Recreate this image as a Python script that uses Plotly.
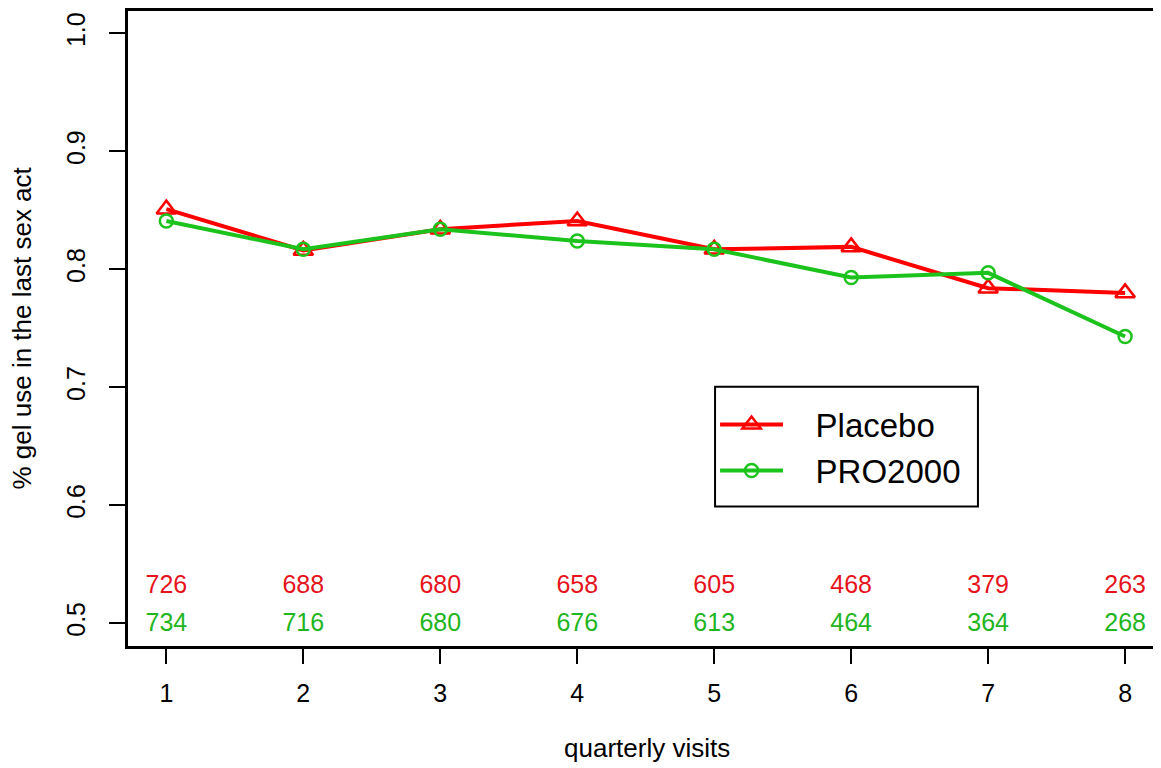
import plotly.graph_objects as go

visits = [1, 2, 3, 4, 5, 6, 7, 8]
placebo = [0.851, 0.816, 0.834, 0.841, 0.817, 0.819, 0.784, 0.780]
pro2000 = [0.841, 0.817, 0.834, 0.824, 0.817, 0.793, 0.797, 0.743]
n_placebo = [726, 688, 680, 658, 605, 468, 379, 263]
n_pro2000 = [734, 716, 680, 676, 613, 464, 364, 268]
y_ticks = [0.5, 0.6, 0.7, 0.8, 0.9, 1.0]
y_tick_text = ["0.5", "0.6", "0.7", "0.8", "0.9", "1.0"]

RED = "#FF0000"
GREEN = "#1DC31D"
FONT = "Liberation Sans, Arial, sans-serif"
NB = "\u00a0\u00a0\u00a0"

fig = go.Figure()
fig.add_trace(go.Scatter(
    x=visits, y=placebo, name=NB + "Placebo", mode="lines+markers",
    line=dict(color=RED, width=4),
    marker=dict(symbol="triangle-up-open", size=17, color=RED, line=dict(width=2.5, color=RED)),
))
fig.add_trace(go.Scatter(
    x=visits, y=pro2000, name=NB + "PRO2000", mode="lines+markers",
    line=dict(color=GREEN, width=4),
    marker=dict(symbol="circle-open", size=13, color=GREEN, line=dict(width=2.5, color=GREEN)),
))
fig.add_trace(go.Scatter(
    x=visits, y=[0.5305] * len(visits), mode="text", text=[str(v) for v in n_placebo],
    textfont=dict(color="#E5141C", size=25, family=FONT), showlegend=False, hoverinfo="skip",
))
fig.add_trace(go.Scatter(
    x=visits, y=[0.4985] * len(visits), mode="text", text=[str(v) for v in n_pro2000],
    textfont=dict(color="#22B522", size=25, family=FONT), showlegend=False, hoverinfo="skip",
))

fig.update_layout(
    width=1153, height=760,
    margin=dict(l=120, r=0, t=1, b=122),
    paper_bgcolor="white", plot_bgcolor="white",
    font=dict(family=FONT, size=25, color="black"),
    showlegend=True,
    legend=dict(
        x=0.5683, y=0.3124, xanchor="left", yanchor="middle",
        xref="paper", yref="paper",
        borderwidth=0, bgcolor="rgba(0,0,0,0)",
        font=dict(size=33, family=FONT),
        itemwidth=63, tracegroupgap=0,
    ),
    shapes=[
        dict(type="rect", xref="paper", yref="paper",
             x0=0.5683, x1=0.8228, y0=0.2198, y1=0.4082,
             line=dict(color="black", width=2), fillcolor="rgba(0,0,0,0)", layer="above"),
    ],
    xaxis=dict(
        range=[0.72, 8.262], tickvals=visits, ticktext=[str(v) for v in visits],
        showgrid=False, zeroline=False,
        showline=True, linecolor="black", linewidth=2.5, mirror=True,
        ticks="outside", ticklen=15, tickwidth=2, tickcolor="black",
        ticklabelstandoff=8,
        tickfont=dict(size=25),
    ),
    yaxis=dict(
        range=[0.4806, 1.019], tickvals=y_ticks, ticktext=y_tick_text,
        showgrid=False, zeroline=False,
        showline=True, linecolor="black", linewidth=2.5, mirror=False,
        ticks="outside", ticklen=16, tickwidth=2, tickcolor="black",
        tickangle=-90, ticklabelstandoff=14,
        tickfont=dict(size=25),
    ),
    annotations=[
        dict(text="quarterly visits", xref="paper", yref="paper", x=0.5, y=0,
             yshift=-102, xshift=2, showarrow=False, font=dict(size=26),
             xanchor="center", yanchor="middle"),
        dict(text="% gel use in the last sex act", xref="paper", yref="paper", x=0, y=0.5,
             xshift=-107, showarrow=False, font=dict(size=26), textangle=-90,
             xanchor="center", yanchor="middle"),
    ],
)

fig.write_html("out.html")
